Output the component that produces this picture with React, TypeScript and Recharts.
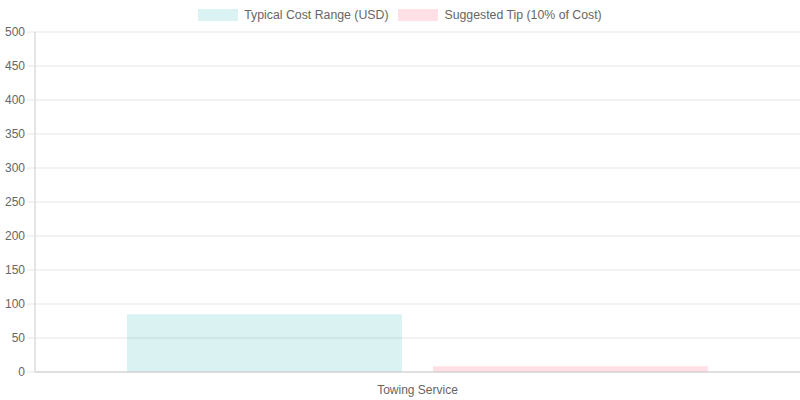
import React from 'react';
import { BarChart, Bar, CartesianGrid, XAxis, YAxis, Legend } from 'recharts';

const categories = ['Towing Service'];
const costRange = [85];
const suggestedTip = [8.5];
const yTicks = [0, 50, 100, 150, 200, 250, 300, 350, 400, 450, 500];

const seriesInfo = [
    { key: 'cost', name: 'Typical Cost Range (USD)', fill: 'rgba(75, 192, 192, 0.2)' },
    { key: 'tip', name: 'Suggested Tip (10% of Cost)', fill: 'rgba(255, 99, 132, 0.2)' },
];

const data = categories.map((c, i) => ({ name: c, cost: costRange[i], tip: suggestedTip[i] }));

const FONT = '"Liberation Sans", Arial, Helvetica, sans-serif';

function LegendRow() {
    return (
        <div style={{ display: 'flex', justifyContent: 'center', alignItems: 'center', height: 32, marginLeft: 0, fontFamily: FONT, fontSize: 12.3, color: '#666' }}>
            {seriesInfo.map((s) => (
                <div key={s.key} style={{ display: 'flex', alignItems: 'center', margin: '0 5px', position: 'relative', top: -1 }}>
                    <span style={{ display: 'inline-block', width: 40, height: 12, background: s.fill, marginRight: 6 }} />
                    <span>{s.name}</span>
                </div>
            ))}
        </div>
    );
}

export default function App() {
    return (
        <div style={{ position: 'absolute', left: 0, top: 0, width: 800, height: 400, background: '#fff' }}>
            <BarChart width={800} height={400} data={data} margin={{ top: 0, right: 0, left: 0, bottom: 0 }} barGap={31} barSize={275}>
                <CartesianGrid vertical={false} stroke="#e5e5e5" />
                <XAxis
                    dataKey="name"
                    height={28}
                    stroke="#ccc"
                    tickLine={false}
                    tickSize={8}
                    tickMargin={5}
                    tick={{ fill: '#666', fontSize: 12, fontFamily: FONT }}
                />
                <YAxis
                    domain={[0, 500]}
                    ticks={yTicks}
                    width={35}
                    stroke="#ccc"
                    tickSize={8}
                    tickLine={{ stroke: '#e5e5e5' }}
                    tick={{ fill: '#666', fontSize: 12, fontFamily: FONT }}
                    interval={0}
                />
                <Legend verticalAlign="top" height={32} content={() => <LegendRow />} />
                {seriesInfo.map((s) => (
                    <Bar key={s.key} dataKey={s.key} name={s.name} fill={s.fill} isAnimationActive={false} />
                ))}
            </BarChart>
        </div>
    );
}
